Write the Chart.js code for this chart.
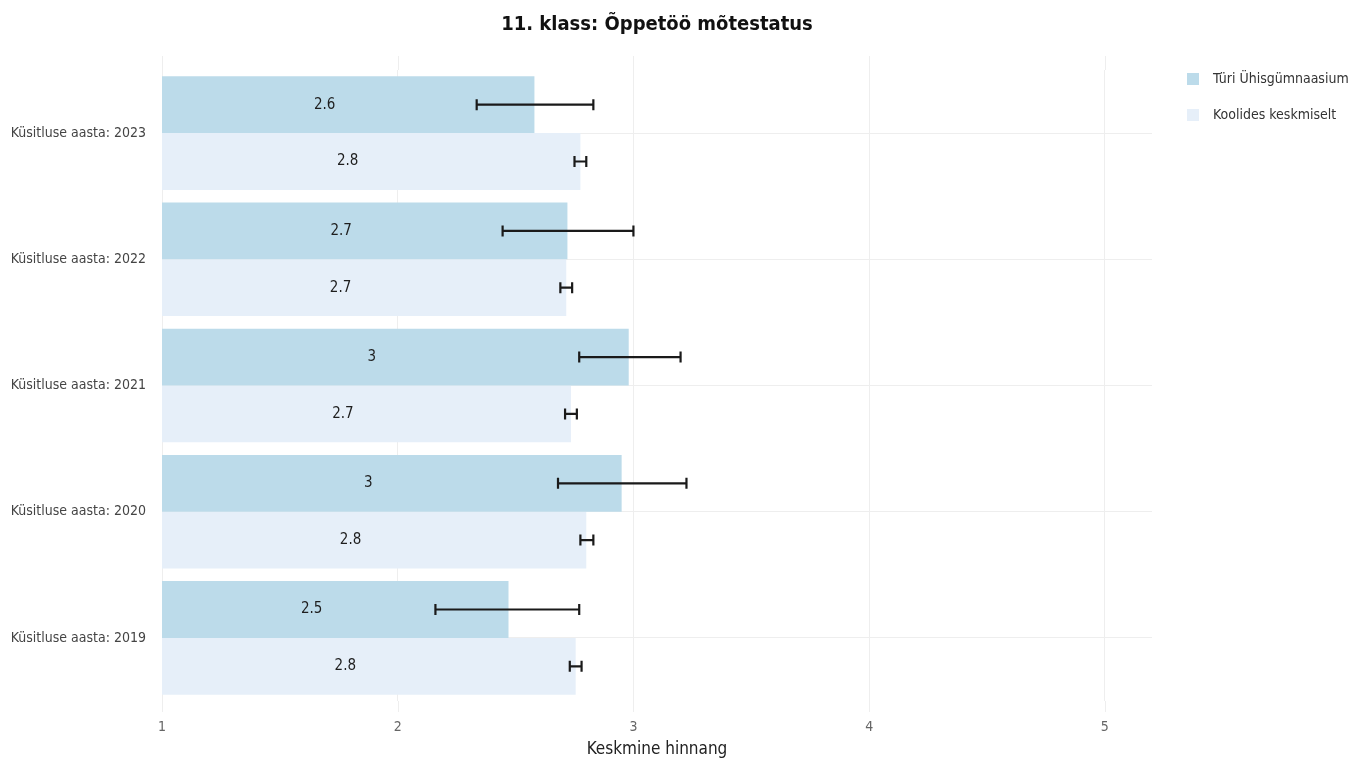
<!DOCTYPE html>
<html lang="et">
<head>
<meta charset="utf-8">
<title>11. klass: Õppetöö mõtestatus</title>
<script src="https://cdn.jsdelivr.net/npm/chart.js@4.4.1/dist/chart.umd.min.js"></script>
<style>
    html, body { margin: 0; padding: 0; background: #fff; }
    #wrap { width: 1359px; height: 761px; position: relative; }
</style>
</head>
<body>
<div id="wrap"><canvas id="chart"></canvas></div>
<script>
// Andmed (loetud pildilt)
const categories = [
    'Küsitluse aasta: 2023',
    'Küsitluse aasta: 2022',
    'Küsitluse aasta: 2021',
    'Küsitluse aasta: 2020',
    'Küsitluse aasta: 2019'
];
const seriesNames = ['Türi Ühisgümnaasium', 'Koolides keskmiselt'];

const turiValues = [2.58, 2.72, 2.98, 2.95, 2.47];
const turiLow = [2.335, 2.445, 2.77, 2.68, 2.16];
const turiHigh = [2.83, 3.0, 3.2, 3.225, 2.77];

const koolValues = [2.775, 2.715, 2.735, 2.80, 2.755];
const koolLow = [2.75, 2.69, 2.71, 2.775, 2.73];
const koolHigh = [2.80, 2.74, 2.76, 2.83, 2.78];

const xTicks = [1, 2, 3, 4, 5];

const colors = ['#bcdbea', '#e6eff9'];
const FONT = '"DejaVu Sans Condensed", "DejaVu Sans", sans-serif';

// Vertikaalsed ruudujooned veidi üle joonise ala (nagu originaalis)
const extendGridPlugin = {
    id: 'extendGrid',
    beforeDatasetsDraw(chart) {
        const ctx = chart.ctx;
        const xScale = chart.scales.x;
        const area = chart.chartArea;
        ctx.save();
        ctx.strokeStyle = '#eeeeee';
        ctx.lineWidth = 1;
        xScale.ticks.forEach(t => {
            const x = Math.round(xScale.getPixelForValue(t.value)) + 0.5;
            ctx.beginPath();
            ctx.moveTo(x, area.top - 14);
            ctx.lineTo(x, area.top);
            ctx.moveTo(x, area.bottom);
            ctx.lineTo(x, area.bottom + 11);
            ctx.stroke();
        });
        ctx.restore();
    }
};

// Veapiirid
const errorBarsPlugin = {
    id: 'errorBars',
    afterDatasetsDraw(chart) {
        const ctx = chart.ctx;
        const xScale = chart.scales.x;
        const bounds = [[turiLow, turiHigh], [koolLow, koolHigh]];
        ctx.save();
        ctx.strokeStyle = '#1a1a1a';
        ctx.lineWidth = 2.2;
        chart.data.datasets.forEach((ds, di) => {
            const meta = chart.getDatasetMeta(di);
            meta.data.forEach((bar, i) => {
                const x1 = xScale.getPixelForValue(bounds[di][0][i]);
                const x2 = xScale.getPixelForValue(bounds[di][1][i]);
                const y = bar.y;
                const h = 5.5;
                ctx.beginPath();
                ctx.moveTo(x1, y); ctx.lineTo(x2, y);
                ctx.moveTo(x1, y - h); ctx.lineTo(x1, y + h);
                ctx.moveTo(x2, y - h); ctx.lineTo(x2, y + h);
                ctx.stroke();
            });
        });
        ctx.restore();
    }
};

// Väärtused tulpade sees
const valueLabelsPlugin = {
    id: 'valueLabels',
    afterDatasetsDraw(chart) {
        const ctx = chart.ctx;
        const xScale = chart.scales.x;
        ctx.save();
        ctx.font = '15px ' + FONT;
        ctx.fillStyle = '#1e1e1e';
        ctx.textAlign = 'center';
        ctx.textBaseline = 'middle';
        chart.data.datasets.forEach((ds, di) => {
            const meta = chart.getDatasetMeta(di);
            meta.data.forEach((bar, i) => {
                const v = ds.data[i];
                const x = xScale.getPixelForValue((v + 1) / 2 - 0.1);
                ctx.fillText(String(Math.round(v * 10) / 10), x, bar.y);
            });
        });
        ctx.restore();
    }
};

// Legend paremal
const sideLegendPlugin = {
    id: 'sideLegend',
    afterDraw(chart) {
        const ctx = chart.ctx;
        const left = chart.chartArea.right + 35;
        ctx.save();
        ctx.font = '14px ' + FONT;
        ctx.textBaseline = 'middle';
        ctx.textAlign = 'left';
        seriesNames.forEach((name, i) => {
            const y = 79 + i * 36;
            ctx.fillStyle = colors[i];
            ctx.fillRect(left, y - 6, 12, 12);
            ctx.fillStyle = '#333';
            ctx.fillText(name, left + 26, y);
        });
        ctx.restore();
    }
};

const ctx = document.getElementById('chart').getContext('2d');
new Chart(ctx, {
    type: 'bar',
    data: {
        labels: categories,
        datasets: [
            {
                label: seriesNames[0],
                data: turiValues,
                backgroundColor: colors[0],
                borderWidth: 0,
                categoryPercentage: 0.9,
                barPercentage: 1
            },
            {
                label: seriesNames[1],
                data: koolValues,
                backgroundColor: colors[1],
                borderWidth: 0,
                categoryPercentage: 0.9,
                barPercentage: 1
            }
        ]
    },
    options: {
        indexAxis: 'y',
        responsive: true,
        maintainAspectRatio: false,
        animation: false,
        layout: {
            padding: { left: 12, right: 207, top: 0, bottom: 0 }
        },
        scales: {
            x: {
                min: 1,
                max: 5.2,
                afterBuildTicks(scale) {
                    scale.ticks = xTicks.map(v => ({ value: v }));
                },
                afterFit(scale) { scale.height = 60; },
                grid: { color: '#eeeeee', drawTicks: false },
                border: { display: false },
                ticks: {
                    padding: 18,
                    color: '#666',
                    font: { family: FONT, size: 14 }
                },
                title: {
                    display: true,
                    text: 'Keskmine hinnang',
                    color: '#222',
                    font: { family: FONT, size: 17 },
                    padding: { top: 6, bottom: 1 }
                }
            },
            y: {
                afterFit(scale) { scale.width = 150; },
                grid: { color: '#eeeeee', offset: false, drawTicks: false },
                border: { display: false },
                ticks: {
                    padding: 16,
                    color: '#444',
                    font: { family: FONT, size: 14 }
                }
            }
        },
        plugins: {
            legend: { display: false },
            tooltip: { enabled: false },
            title: {
                display: true,
                fullSize: false,
                text: '11. klass: Õppetöö mõtestatus',
                color: '#111',
                font: { family: FONT, size: 20, weight: 'bold' },
                padding: { top: 13, bottom: 33 }
            }
        }
    },
    plugins: [extendGridPlugin, errorBarsPlugin, valueLabelsPlugin, sideLegendPlugin]
});
</script>
</body>
</html>
